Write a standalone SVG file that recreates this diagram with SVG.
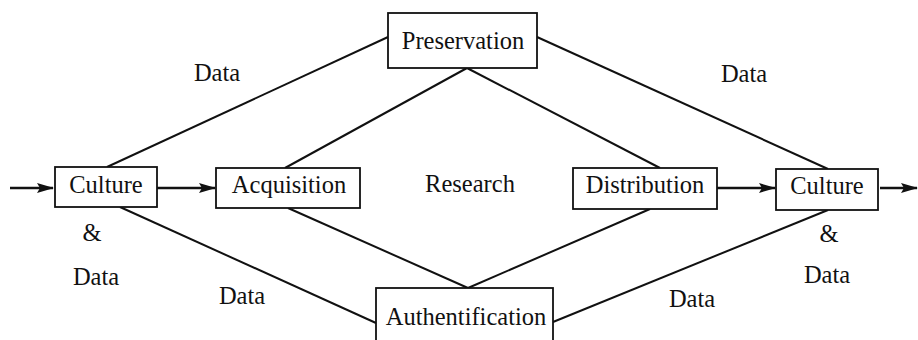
<svg xmlns="http://www.w3.org/2000/svg" width="918" height="340" viewBox="0 0 918 340">
<defs>
<marker id="ah" markerWidth="17" markerHeight="11" refX="16" refY="5.5" orient="auto" markerUnits="userSpaceOnUse">
<path d="M0,0.5 L17,5.5 L0,10.5 L3,5.5 Z" fill="#111"/>
</marker>
<style>
.box{fill:#fff;stroke:#111;stroke-width:1.8}
.ln{stroke:#111;stroke-width:2;fill:none}
.ar{stroke:#111;stroke-width:2.6;fill:none;marker-end:url(#ah)}
text{font-family:"Liberation Serif","Times New Roman",serif;font-size:24.5px;fill:#111}
.c{text-anchor:middle}
</style>
</defs>
<rect width="918" height="340" fill="#fff"/>
<g id="connectors">
<line class="ln" x1="107" y1="167" x2="388" y2="37"/>
<line class="ln" x1="285" y1="168" x2="467" y2="68"/>
<line class="ln" x1="660" y1="168" x2="467" y2="68"/>
<line class="ln" x1="828" y1="169" x2="537" y2="37"/>
<line class="ln" x1="120" y1="207" x2="376" y2="323"/>
<line class="ln" x1="288" y1="208" x2="468" y2="288"/>
<line class="ln" x1="650" y1="209" x2="468" y2="288"/>
<line class="ln" x1="828" y1="210" x2="553" y2="322"/>
<line class="ar" x1="10" y1="188" x2="53" y2="188"/>
<line class="ar" x1="157" y1="188" x2="215" y2="188"/>
<line class="ar" x1="717" y1="188" x2="775" y2="188"/>
<line class="ar" x1="880" y1="188" x2="917" y2="188"/>
</g>
<g id="preservation">
<rect class="box" x="388" y="13" width="149" height="55"/>
<text class="c" x="463" y="49">Preservation</text>
</g>
<g id="culture-in">
<rect class="box" x="55" y="167" width="102" height="40"/>
<text class="c" x="106" y="193">Culture</text>
</g>
<g id="acquisition">
<rect class="box" x="216" y="168" width="144" height="40"/>
<text class="c" x="289" y="193">Acquisition</text>
</g>
<g id="distribution">
<rect class="box" x="573" y="168" width="144" height="41"/>
<text class="c" x="645" y="193">Distribution</text>
</g>
<g id="culture-out">
<rect class="box" x="776" y="169" width="102" height="41"/>
<text class="c" x="827" y="194">Culture</text>
</g>
<g id="authentification">
<rect class="box" x="376" y="288" width="177" height="60"/>
<text class="c" x="466" y="325">Authentification</text>
</g>
<g id="labels">
<text class="c" x="217" y="81">Data</text>
<text class="c" x="744" y="82">Data</text>
<text class="c" x="470" y="192">Research</text>
<text class="c" x="92" y="241">&amp;</text>
<text class="c" x="96" y="285">Data</text>
<text class="c" x="242" y="304">Data</text>
<text class="c" x="692" y="307">Data</text>
<text class="c" x="829" y="242">&amp;</text>
<text class="c" x="827" y="283">Data</text>
</g>
</svg>
